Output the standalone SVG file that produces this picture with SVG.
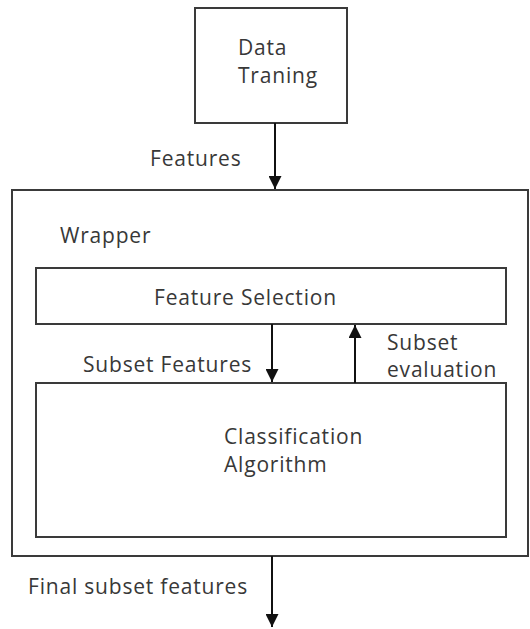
<svg xmlns="http://www.w3.org/2000/svg" width="530" height="629" viewBox="0 0 530 629">
  <style>
    .box { fill: #ffffff; stroke: #3a3a3a; stroke-width: 2; }
    .lbl { font-family: "Open Sans", "DejaVu Sans", sans-serif; font-size: 21px; letter-spacing: 0.8px; fill: #383838; }
    .edge { stroke: #111111; stroke-width: 2; fill: none; }
  </style>
  <defs>
    <marker id="arrowBig" viewBox="0 0 10 10" refX="10" refY="5" markerWidth="13" markerHeight="13" markerUnits="userSpaceOnUse" orient="auto">
      <path d="M0,0 L10,5 L0,10 z" fill="#111111"/>
    </marker>
  </defs>
  <rect width="530" height="629" fill="#ffffff"/>

  <g id="wrapper">
    <rect class="box" x="12" y="190" width="516" height="366"/>
    <text class="lbl" x="60" y="243">Wrapper</text>
  </g>

  <g id="data-training">
    <rect class="box" x="195" y="8" width="152" height="115"/>
    <text class="lbl" x="238" y="55">Data</text>
    <text class="lbl" x="238" y="83">Traning</text>
  </g>

  <g id="feature-selection">
    <rect class="box" x="36" y="268" width="470" height="56"/>
    <text class="lbl" x="154" y="305">Feature Selection</text>
  </g>

  <g id="classification">
    <rect class="box" x="36" y="383" width="470" height="154"/>
    <text class="lbl" x="224" y="444">Classification</text>
    <text class="lbl" x="224" y="472">Algorithm</text>
  </g>

  <g id="connectors">
    <line class="edge" x1="275" y1="123" x2="275" y2="189" marker-end="url(#arrowBig)"/>
    <text class="lbl" x="150" y="166">Features</text>

    <line class="edge" x1="272" y1="324" x2="272" y2="382" marker-end="url(#arrowBig)"/>
    <text class="lbl" x="83" y="372">Subset Features</text>

    <line class="edge" x1="355" y1="383" x2="355" y2="325" marker-end="url(#arrowBig)"/>
    <text class="lbl" x="387" y="350">Subset</text>
    <text class="lbl" x="387" y="377">evaluation</text>

    <line class="edge" x1="272" y1="556" x2="272" y2="627" marker-end="url(#arrowBig)"/>
    <text class="lbl" x="28" y="594">Final subset features</text>
  </g>
</svg>
